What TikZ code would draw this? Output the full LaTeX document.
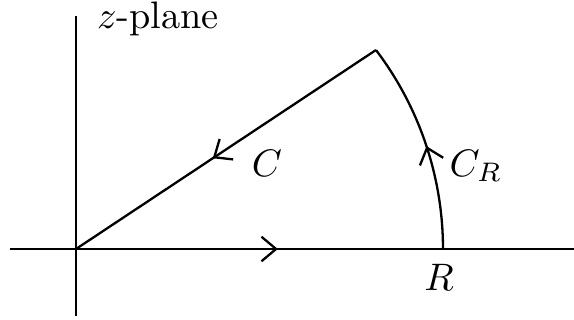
\documentclass[tikz,border=0pt]{standalone}
\usetikzlibrary{decorations.markings,arrows.meta}
\begin{document}
\begin{tikzpicture}[x=0.261pt,y=0.261pt,
  line width=0.6pt,
  midarrow/.style={postaction={decorate},decoration={markings,mark=at position #1 with {\arrow{Straight Barb[length=3.8pt,width=6.4pt]}}}},
  lbl/.style={inner sep=0pt}]
\useasboundingbox (0,0) rectangle (574,320);
\coordinate (xl) at (10,71);
\coordinate (xr) at (574,71);
\coordinate (yb) at (76,4);
\coordinate (yt) at (76,304);
\coordinate (O) at (76,71);
\coordinate (R) at (443,71);
\coordinate (P) at (376,270);
\draw (xl) -- (xr);
\draw (yb) -- (yt);
\draw[midarrow=0.55] (O) -- (R);
\draw[midarrow=0.49] (R) arc[start angle=0,end angle=37.2,radius=329];
\draw[midarrow=0.545] (P) -- (O);
\node[lbl,anchor=base west] (zp) at (96,291) {$z$-plane};
\node[lbl] (c) at (267,157) {$C$};
\node[lbl] (cr) at (476,154) {$C_R$};
\node[lbl] (rl) at (439,43) {$R$};
\end{tikzpicture}
\end{document}
